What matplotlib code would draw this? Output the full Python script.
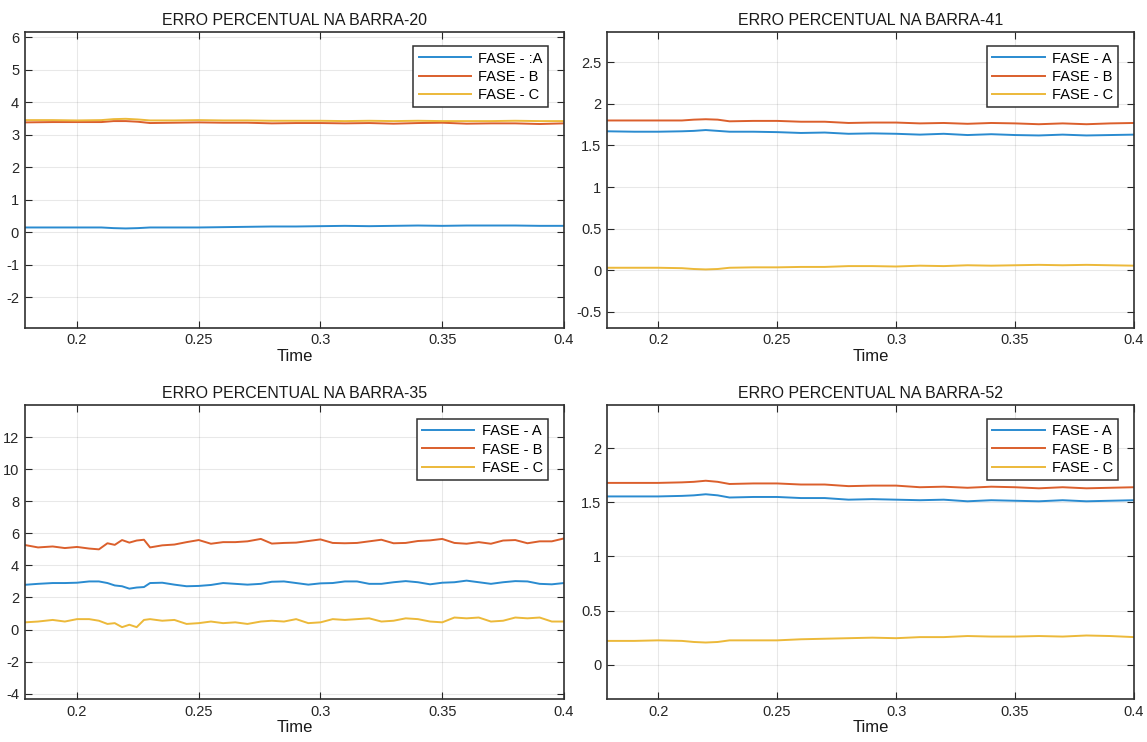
import numpy as np
import matplotlib.pyplot as plt
from matplotlib.ticker import FormatStrFormatter

plt.rcParams['font.family'] = ['Liberation Sans', 'DejaVu Sans']

# cores das fases (padrao do matlab, um pouco mais claras)
cA = '#2a8bd0'
cB = '#db5f2c'
cC = '#ecb93a'

# tempo (s) para as barras 20, 41 e 52
t = [0.1786, 0.19, 0.2, 0.21, 0.215, 0.22, 0.225, 0.23, 0.24, 0.25, 0.26, 0.27,
     0.28, 0.29, 0.3, 0.31, 0.32, 0.33, 0.34, 0.35, 0.36, 0.37, 0.38, 0.39, 0.4]

# barra 20
b20_A = [0.15, 0.15, 0.15, 0.15, 0.13, 0.12, 0.13, 0.15, 0.15, 0.15, 0.16, 0.17,
         0.18, 0.18, 0.19, 0.2, 0.19, 0.2, 0.21, 0.2, 0.21, 0.21, 0.21, 0.2, 0.2]
b20_B = [3.38, 3.39, 3.39, 3.39, 3.42, 3.42, 3.40, 3.36, 3.37, 3.38, 3.37, 3.37,
         3.35, 3.36, 3.36, 3.35, 3.36, 3.34, 3.36, 3.37, 3.34, 3.35, 3.35, 3.33, 3.35]
b20_C = [3.45, 3.45, 3.44, 3.45, 3.48, 3.49, 3.47, 3.44, 3.44, 3.45, 3.44, 3.44,
         3.43, 3.43, 3.43, 3.42, 3.43, 3.42, 3.43, 3.42, 3.42, 3.42, 3.43, 3.42, 3.42]

# barra 41
b41_A = [1.67, 1.665, 1.665, 1.67, 1.675, 1.685, 1.675, 1.665, 1.665, 1.66, 1.65, 1.655,
         1.64, 1.645, 1.64, 1.63, 1.64, 1.625, 1.635, 1.625, 1.62, 1.63, 1.62, 1.625, 1.63]
b41_B = [1.80, 1.80, 1.80, 1.80, 1.81, 1.815, 1.81, 1.79, 1.795, 1.795, 1.785, 1.785,
         1.77, 1.775, 1.775, 1.765, 1.77, 1.76, 1.77, 1.765, 1.755, 1.765, 1.755, 1.765, 1.77]
b41_C = [0.03, 0.03, 0.03, 0.025, 0.015, 0.01, 0.015, 0.03, 0.035, 0.035, 0.04, 0.04,
         0.05, 0.05, 0.045, 0.055, 0.05, 0.06, 0.055, 0.06, 0.065, 0.06, 0.065, 0.06, 0.055]

# barra 52
b52_A = [1.555, 1.555, 1.555, 1.56, 1.565, 1.575, 1.565, 1.545, 1.55, 1.55, 1.54, 1.54,
         1.525, 1.53, 1.525, 1.52, 1.525, 1.51, 1.52, 1.515, 1.51, 1.52, 1.51, 1.515, 1.52]
b52_B = [1.68, 1.68, 1.68, 1.685, 1.69, 1.70, 1.69, 1.67, 1.675, 1.675, 1.665, 1.665,
         1.65, 1.655, 1.655, 1.64, 1.645, 1.635, 1.645, 1.64, 1.63, 1.64, 1.63, 1.635, 1.64]
b52_C = [0.22, 0.22, 0.225, 0.22, 0.21, 0.205, 0.21, 0.225, 0.225, 0.225, 0.235, 0.24,
         0.245, 0.25, 0.245, 0.255, 0.255, 0.265, 0.26, 0.26, 0.265, 0.26, 0.27, 0.265, 0.255]

# barra 35 (mais oscilacao, amostragem mais fina)
t35 = [0.1786, 0.184, 0.19, 0.195, 0.2, 0.205, 0.209, 0.2125, 0.2155, 0.2185, 0.2215,
       0.2245, 0.2275, 0.23, 0.235, 0.24, 0.245, 0.25, 0.255, 0.26, 0.265, 0.27, 0.2755,
       0.28, 0.285, 0.29, 0.295, 0.3, 0.305, 0.31, 0.315, 0.32, 0.325, 0.33, 0.335, 0.34,
       0.345, 0.35, 0.355, 0.36, 0.365, 0.37, 0.375, 0.38, 0.385, 0.39, 0.395, 0.4]
b35_A = [2.79, 2.85, 2.9, 2.9, 2.92, 3.0, 3.0, 2.9, 2.75, 2.7, 2.55, 2.62, 2.65, 2.9,
         2.92, 2.8, 2.7, 2.72, 2.78, 2.9, 2.85, 2.8, 2.85, 2.98, 3.0, 2.9, 2.8, 2.88,
         2.9, 3.0, 3.0, 2.85, 2.85, 2.95, 3.02, 2.95, 2.82, 2.92, 2.95, 3.05, 2.95, 2.85,
         2.95, 3.02, 3.0, 2.85, 2.82, 2.9]
b35_B = [5.27, 5.12, 5.18, 5.08, 5.15, 5.05, 5.0, 5.38, 5.28, 5.58, 5.42, 5.55, 5.6,
         5.12, 5.25, 5.3, 5.45, 5.58, 5.35, 5.45, 5.45, 5.5, 5.65, 5.36, 5.4, 5.42, 5.52,
         5.62, 5.4, 5.38, 5.4, 5.5, 5.6, 5.38, 5.4, 5.52, 5.56, 5.65, 5.4, 5.35, 5.45,
         5.35, 5.55, 5.58, 5.38, 5.5, 5.5, 5.68]
b35_C = [0.45, 0.5, 0.6, 0.5, 0.65, 0.65, 0.55, 0.35, 0.4, 0.15, 0.3, 0.15, 0.6, 0.65,
         0.55, 0.6, 0.35, 0.4, 0.5, 0.4, 0.45, 0.35, 0.5, 0.55, 0.5, 0.65, 0.4, 0.45,
         0.65, 0.6, 0.65, 0.7, 0.5, 0.55, 0.7, 0.65, 0.5, 0.45, 0.75, 0.7, 0.75, 0.5,
         0.55, 0.75, 0.7, 0.75, 0.5, 0.5]

fig = plt.figure(figsize=(11.47, 7.42), dpi=100)

# posicoes dos eixos [esq, baixo, largura, altura]
pos = {'20': [0.0215, 0.5584, 0.4702, 0.3981],
       '41': [0.5292, 0.5584, 0.4595, 0.3981],
       '35': [0.0215, 0.0575, 0.4702, 0.3967],
       '52': [0.5292, 0.0575, 0.4595, 0.3967]}

paineis = [
    ('20', t, b20_A, b20_B, b20_C, (-2.93, 6.15), np.arange(-2, 7, 1), ['FASE - :A', 'FASE - B', 'FASE - C']),
    ('41', t, b41_A, b41_B, b41_C, (-0.69, 2.86), np.arange(-0.5, 2.6, 0.5), ['FASE - A', 'FASE - B', 'FASE - C']),
    ('35', t35, b35_A, b35_B, b35_C, (-4.35, 14.0), np.arange(-4, 13, 2), ['FASE - A', 'FASE - B', 'FASE - C']),
    ('52', t, b52_A, b52_B, b52_C, (-0.32, 2.40), np.arange(0, 2.1, 0.5), ['FASE - A', 'FASE - B', 'FASE - C']),
]

for nome, tt, ya, yb, yc, ylim, yt, labs in paineis:
    ax = fig.add_axes(pos[nome])
    ax.plot(tt, ya, color=cA, lw=1.4, label=labs[0])
    ax.plot(tt, yb, color=cB, lw=1.4, label=labs[1])
    ax.plot(tt, yc, color=cC, lw=1.4, label=labs[2])
    ax.set_xlim(0.1785, 0.4)
    ax.set_ylim(*ylim)
    ax.set_xticks([0.2, 0.25, 0.3, 0.35, 0.4])
    ax.set_yticks(yt)
    ax.xaxis.set_major_formatter(FormatStrFormatter('%g'))
    ax.yaxis.set_major_formatter(FormatStrFormatter('%g'))
    ax.grid(True, color='#262626', alpha=0.1, lw=0.8)
    ax.tick_params(direction='in', top=True, right=True, length=5, width=0.8,
                   labelsize=10.5, colors='#262626', pad=4)
    for s in ax.spines.values():
        s.set_color('#303030')
        s.set_linewidth(1.2)
    ax.set_title('ERRO PERCENTUAL NA BARRA-' + nome, fontsize=11.5, pad=5, color='#1a1a1a')
    ax.set_xlabel('Time', fontsize=12, labelpad=1, color='#1a1a1a')
    leg = ax.legend(loc='upper right', bbox_to_anchor=(0.97, 0.952), borderaxespad=0,
                    fontsize=10.5, fancybox=False, framealpha=1, edgecolor='#303030',
                    handlelength=3.6, labelspacing=0.3, borderpad=0.35, handletextpad=0.5)
    leg.get_frame().set_linewidth(1.1)

fig.savefig('out.png', dpi=100)
